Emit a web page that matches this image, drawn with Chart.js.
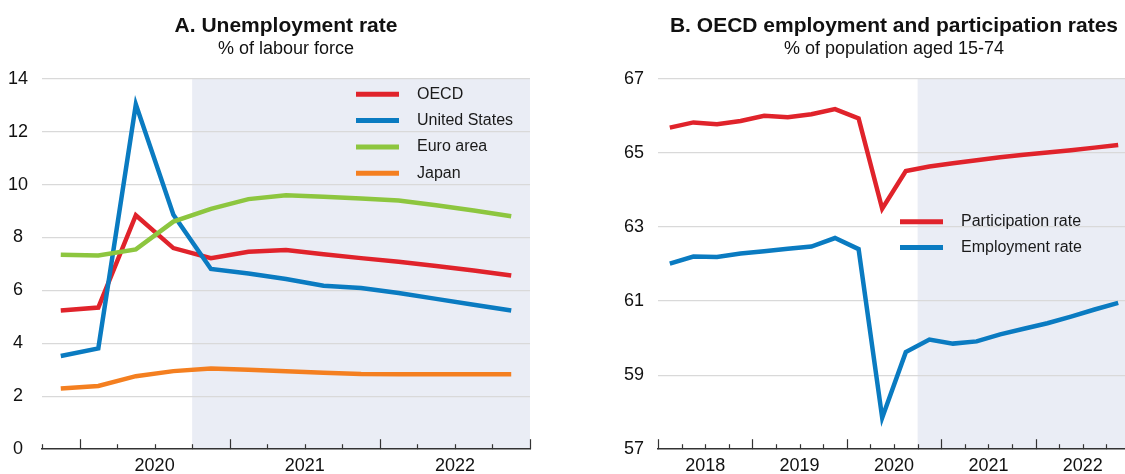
<!DOCTYPE html>
<html>
<head>
<meta charset="utf-8">
<script src="https://cdn.jsdelivr.net/npm/chart.js@4.4.0/dist/chart.umd.min.js"></script>
<style>
  html, body { margin: 0; padding: 0; background: #fff; overflow: hidden; }
  #wrap { position: relative; width: 1125px; height: 474px; }
  #boxA { position: absolute; left: 0; top: 0; width: 560px; height: 474px; }
  #boxB { position: absolute; left: 560px; top: 0; width: 575px; height: 474px; }
</style>
</head>
<body>
<div id="wrap">
  <div id="boxA"><canvas id="chartA"></canvas></div>
  <div id="boxB"><canvas id="chartB"></canvas></div>
</div>
<script>
// Panel A - unemployment rate, % of labour force (quarterly)
const quartersA = ["2019-Q4", "2020-Q1", "2020-Q2", "2020-Q3", "2020-Q4",
  "2021-Q1", "2021-Q2", "2021-Q3", "2021-Q4", "2022-Q1", "2022-Q2", "2022-Q3", "2022-Q4"];
const oecd = [5.24, 5.35, 8.84, 7.6, 7.22, 7.46, 7.53, 7.37, 7.22, 7.08, 6.92, 6.75, 6.56];
const unitedStates = [3.52, 3.81, 13.03, 8.86, 6.81, 6.64, 6.43, 6.18, 6.09, 5.9, 5.68, 5.46, 5.24];
const euroArea = [7.35, 7.32, 7.55, 8.6, 9.08, 9.45, 9.6, 9.54, 9.47, 9.4, 9.22, 9.02, 8.8];
const japan = [2.29, 2.39, 2.76, 2.95, 3.05, 3.0, 2.95, 2.89, 2.84, 2.83, 2.83, 2.83, 2.83];
const yTicksA = [0, 2, 4, 6, 8, 10, 12, 14];
const yearLabelsA = [2020, 2021, 2022];

// Panel B - OECD employment and participation rates, % of population aged 15-74
const quartersB = ["2018-Q1", "2018-Q2", "2018-Q3", "2018-Q4", "2019-Q1", "2019-Q2", "2019-Q3", "2019-Q4",
  "2020-Q1", "2020-Q2", "2020-Q3", "2020-Q4", "2021-Q1", "2021-Q2", "2021-Q3", "2021-Q4",
  "2022-Q1", "2022-Q2", "2022-Q3", "2022-Q4"];
const participation = [65.68, 65.82, 65.77, 65.86, 66.0, 65.96, 66.04, 66.18, 65.93, 63.49,
  64.51, 64.63, 64.72, 64.8, 64.88, 64.95, 65.01, 65.07, 65.14, 65.21];
const employment = [62.01, 62.2, 62.19, 62.28, 62.34, 62.41, 62.47, 62.7, 62.4, 57.85,
  59.62, 59.96, 59.85, 59.91, 60.1, 60.25, 60.4, 60.58, 60.77, 60.95];
const yTicksB = [57, 59, 61, 63, 65, 67];
const yearLabelsB = [2018, 2019, 2020, 2021, 2022];

// projections start in 2020 Q4 (shaded area)
const projectionStart = 2020.75;

const FONT = "'Liberation Sans', Arial, Helvetica, sans-serif";
const RED = "#e0232b", BLUE = "#0a7bc1", GREEN = "#8dc63f", ORANGE = "#f47f20";

// "2020-Q3" -> middle of that quarter on a year axis
function qx(q) {
  const parts = q.split("-Q");
  return +parts[0] + (+parts[1] - 0.5) / 4;
}
function series(qs, vals) {
  return vals.map((v, i) => ({ x: qx(qs[i]), y: v }));
}

const shade = {
  id: "shade",
  beforeDraw(chart) {
    const a = chart.chartArea, x = chart.scales.x, ctx = chart.ctx;
    const x0 = x.getPixelForValue(projectionStart);
    ctx.save();
    ctx.fillStyle = "#eaedf5";
    ctx.fillRect(x0, a.top, a.right - x0, a.bottom - a.top);
    ctx.restore();
  }
};

const quarterTicks = {
  id: "quarterTicks",
  afterDraw(chart) {
    const x = chart.scales.x, ctx = chart.ctx, yb = chart.chartArea.bottom;
    ctx.save();
    ctx.strokeStyle = "#333";
    ctx.lineWidth = 1.2;
    for (let v = x.min; v <= x.max + 1e-6; v += 0.25) {
      const px = Math.round(x.getPixelForValue(v)) + 0.5;
      const len = Math.abs(v - Math.round(v)) < 1e-6 ? 10 : 5;
      ctx.beginPath();
      ctx.moveTo(px, yb);
      ctx.lineTo(px, yb - len);
      ctx.stroke();
    }
    ctx.restore();
  }
};

const inlineLegend = {
  id: "inlineLegend",
  afterDatasetsDraw(chart, args, opts) {
    const ctx = chart.ctx;
    ctx.save();
    ctx.font = "16px " + FONT;
    ctx.textBaseline = "middle";
    chart.data.datasets.forEach((ds, i) => {
      const y = opts.y + i * opts.gap;
      ctx.strokeStyle = ds.borderColor;
      ctx.lineWidth = 5;
      ctx.beginPath();
      ctx.moveTo(opts.x, y);
      ctx.lineTo(opts.x + 43, y);
      ctx.stroke();
      ctx.fillStyle = "#1a1a1a";
      ctx.fillText(ds.label, opts.x + 61, y);
    });
    ctx.restore();
  }
};

function makeOptions(title, subtitle, xMin, xMax, yMin, yMax, yTicks, years, padLeft, padRight, legendPos) {
  return {
    responsive: true,
    maintainAspectRatio: false,
    animation: false,
    layout: { padding: { left: padLeft, right: padRight, top: 0, bottom: 0 } },
    elements: { point: { radius: 0 }, line: { tension: 0, borderWidth: 4.5, borderCapStyle: "butt" } },
    plugins: {
      legend: { display: false },
      tooltip: { enabled: false },
      title: {
        display: true, text: title, fullSize: false, color: "#111",
        font: { family: FONT, size: 21, weight: "bold", lineHeight: 1.2 },
        padding: { top: 14, bottom: 0 }
      },
      subtitle: {
        display: true, text: subtitle, fullSize: false, color: "#111",
        font: { family: FONT, size: 18, lineHeight: 1.0 },
        padding: { top: 0.5, bottom: 21 }
      },
      inlineLegend: legendPos
    },
    scales: {
      x: {
        type: "linear", min: xMin, max: xMax,
        afterBuildTicks: s => { s.ticks = years.map(y => ({ value: y + 0.5 })); },
        afterFit: s => { s.height = 23; },
        grid: { display: false, drawTicks: false },
        border: { display: true, color: "#333", width: 1.5 },
        ticks: {
          autoSkip: false, maxRotation: 0, padding: 6, color: "#111",
          font: { family: FONT, size: 18 },
          callback: v => String(Math.floor(v))
        }
      },
      y: {
        min: yMin, max: yMax,
        afterBuildTicks: s => { s.ticks = yTicks.map(v => ({ value: v })); },
        afterFit: s => { s.width = 42; },
        border: { display: false },
        grid: {
          drawTicks: false, tickLength: 0, lineWidth: 1.2,
          color: c => (c.tick && c.tick.value === yMin ? "rgba(0,0,0,0)" : "#d9d9d9")
        },
        ticks: {
          padding: 14, crossAlign: "center", color: "#111",
          font: { family: FONT, size: 18 }
        }
      }
    }
  };
}

new Chart(document.getElementById("chartA").getContext("2d"), {
  type: "line",
  data: {
    datasets: [
      { label: "OECD", data: series(quartersA, oecd), borderColor: RED, order: 4 },
      { label: "United States", data: series(quartersA, unitedStates), borderColor: BLUE, order: 3 },
      { label: "Euro area", data: series(quartersA, euroArea), borderColor: GREEN, order: 2 },
      { label: "Japan", data: series(quartersA, japan), borderColor: ORANGE, order: 1 }
    ]
  },
  options: makeOptions("A. Unemployment rate", "% of labour force",
    2019.75, 2023.0, 0, 14, yTicksA, yearLabelsA, 0, 30, { x: 356, y: 94.3, gap: 26.3 }),
  plugins: [shade, quarterTicks, inlineLegend]
});

new Chart(document.getElementById("chartB").getContext("2d"), {
  type: "line",
  data: {
    datasets: [
      { label: "Participation rate", data: series(quartersB, participation), borderColor: RED },
      { label: "Employment rate", data: series(quartersB, employment), borderColor: BLUE }
    ]
  },
  options: makeOptions("B. OECD employment and participation rates", "% of population aged 15-74",
    2018.0, 2023.0, 57, 67, yTicksB, yearLabelsB, 56, 5, { x: 340, y: 221.7, gap: 25.7 }),
  plugins: [shade, quarterTicks, inlineLegend]
});
</script>
</body>
</html>
